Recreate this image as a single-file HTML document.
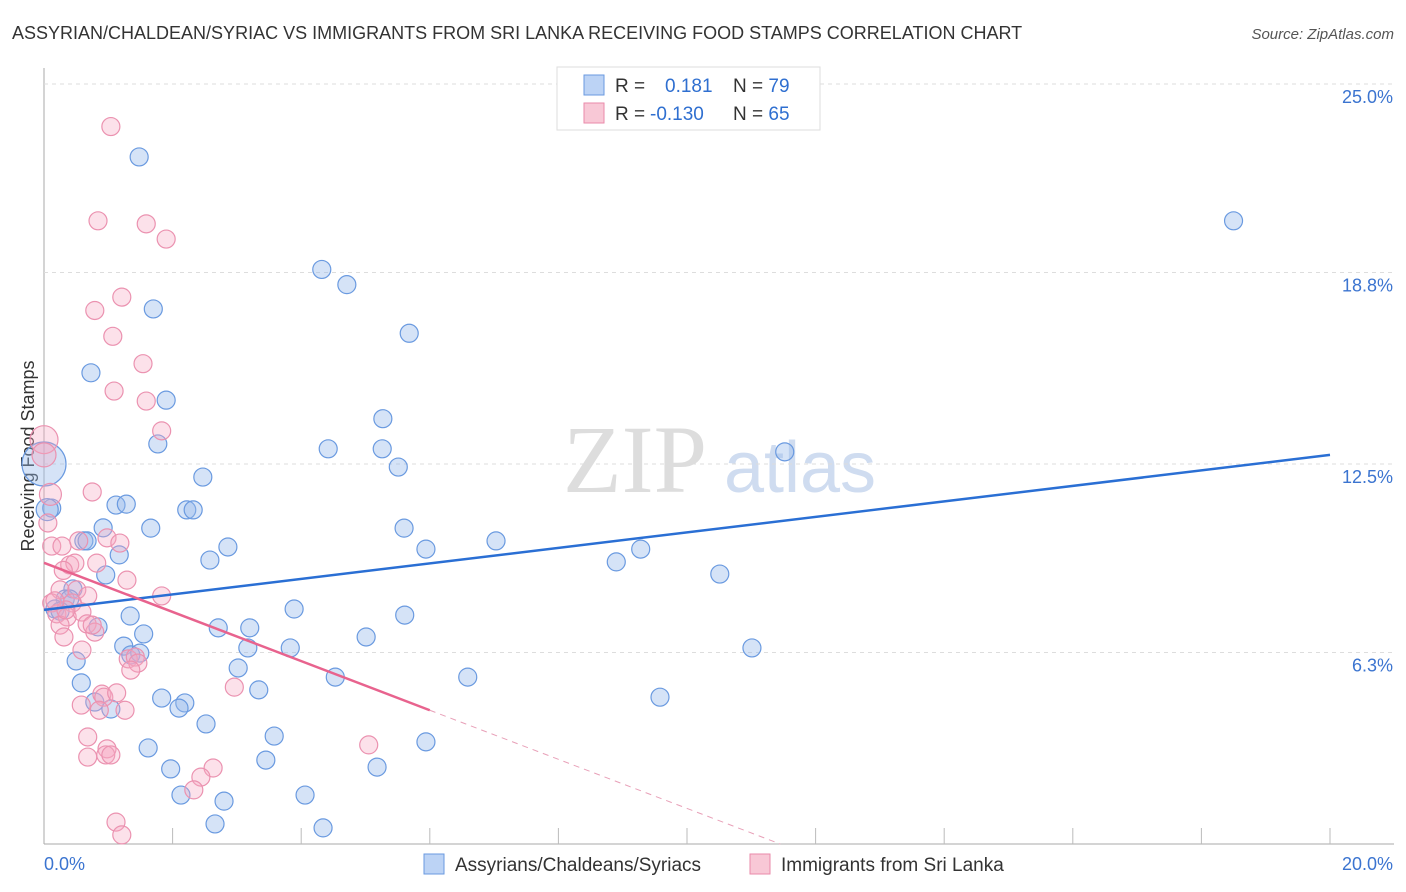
<!DOCTYPE html>
<html><head><meta charset="utf-8"><style>
body{margin:0;background:#fff;font-family:"Liberation Sans",sans-serif;}
svg{display:block}
</style></head><body>
<svg id="chart" width="1406" height="892">
<text x="12" y="39" font-size="18" fill="#333">ASSYRIAN/CHALDEAN/SYRIAC VS IMMIGRANTS FROM SRI LANKA RECEIVING FOOD STAMPS CORRELATION CHART</text>
<text x="1394" y="39" font-size="15" fill="#555" text-anchor="end" font-style="italic">Source: ZipAtlas.com</text>
<text x="635" y="492" font-size="96" fill="#ddd" font-family="Liberation Serif,serif" text-anchor="middle">ZIP</text>
<text x="800" y="492" font-size="72" fill="#cfdcf0" text-anchor="middle">atlas</text>
<text transform="translate(34,456) rotate(-90)" font-size="18" fill="#333" text-anchor="middle">Receiving Food Stamps</text>
<g id="grid"></g><g id="pts"></g><g id="lines"></g>
<g>
<rect x="557" y="67" width="263" height="63" fill="#fff" stroke="#ddd"/>
<rect x="584" y="75" width="20" height="20" fill="#bcd3f5" stroke="#6a9ae0"/>
<rect x="584" y="103" width="20" height="20" fill="#f8c8d6" stroke="#ea8aaa"/>
<text x="615" y="92" font-size="19" fill="#333">R = <tspan fill="#2f6fd0" x="665">0.181</tspan><tspan x="733">N = </tspan><tspan fill="#2f6fd0">79</tspan></text>
<text x="615" y="120" font-size="19" fill="#333">R = <tspan fill="#2f6fd0" x="650">-0.130</tspan><tspan x="733">N = </tspan><tspan fill="#2f6fd0">65</tspan></text>
</g>
<g>
<rect x="424" y="854" width="20" height="20" fill="#bcd3f5" stroke="#6a9ae0"/>
<text x="455" y="871" font-size="19" fill="#333">Assyrians/Chaldeans/Syriacs</text>
<rect x="750" y="854" width="20" height="20" fill="#f8c8d6" stroke="#ea8aaa"/>
<text x="781" y="871" font-size="19" fill="#333">Immigrants from Sri Lanka</text>
</g>
</svg>
<script>
const yTicks=[25.0,18.8,12.5,6.3];
const yTickLabels=["25.0%","18.8%","12.5%","6.3%"];
const xTickLabels=["0.0%","20.0%"];
const blueX=[1.48,18.5,4.32,4.71,1.7,5.68,0.73,1.9,5.27,1.77,4.42,5.26,5.51,2.47,11.52,0.12,1.12,1.28,2.22,2.32,0.92,1.66,5.6,0.62,0.67,7.03,2.86,5.94,1.17,2.58,8.9,9.28,0.96,10.51,0.45,0.33,0.4,0.17,0.25,3.89,5.61,1.34,0.84,2.71,3.2,1.55,5.01,1.24,3.17,3.83,11.01,1.35,1.49,0.5,3.02,4.53,6.59,0.58,3.34,1.83,2.19,9.58,2.1,0.79,1.04,2.52,3.58,1.62,5.94,3.45,5.18,1.97,2.13,4.06,2.8,2.66,4.34,0.0,0.05];
const blueY=[22.6,20.5,18.9,18.4,17.6,16.8,15.5,14.6,13.99,13.16,13.0,13.0,12.4,12.07,12.9,11.05,11.15,11.18,10.99,10.99,10.4,10.39,10.39,9.97,9.97,9.97,9.77,9.7,9.51,9.34,9.28,9.7,8.85,8.88,8.39,8.06,8.06,7.73,7.66,7.73,7.53,7.5,7.14,7.11,7.11,6.91,6.81,6.51,6.45,6.45,6.45,6.22,6.28,6.02,5.79,5.49,5.49,5.3,5.07,4.8,4.64,4.83,4.47,4.67,4.44,3.95,3.55,3.16,3.36,2.76,2.53,2.47,1.61,1.61,1.41,0.66,0.53,12.5,11.0];
const pinkX=[1.04,0.84,1.59,1.9,1.21,0.79,1.07,1.54,1.09,1.59,1.83,0.0,0.75,0.06,0.12,0.28,0.54,0.98,1.18,0.4,0.48,0.82,1.29,0.25,0.51,0.68,1.83,0.12,0.44,0.2,0.36,0.59,0.25,0.67,0.79,0.75,0.31,1.31,1.42,1.46,1.35,0.59,0.9,0.93,1.13,2.96,0.58,0.86,1.26,0.68,0.98,0.96,0.68,1.04,5.05,2.63,2.44,2.33,1.12,1.21,0.34,0.17,0.0,0.1,0.3];
const pinkY=[23.6,20.5,20.4,19.9,17.99,17.55,16.7,15.8,14.9,14.57,13.59,13.3,11.58,10.56,9.8,9.8,9.97,10.07,9.9,9.18,9.24,9.24,8.68,8.36,8.36,8.16,8.16,7.93,7.93,7.57,7.47,7.63,7.2,7.24,6.97,7.2,6.81,6.09,6.15,5.95,5.72,6.38,4.93,4.83,4.97,5.16,4.57,4.4,4.4,3.52,3.13,2.93,2.86,2.93,3.26,2.5,2.2,1.78,0.72,0.3,7.7,8.0,12.8,11.5,9.0];
const blueSize=[...Array(blueX.length)].map((_,i)=>i===77?22:i===78?11:9);
const pinkSize=[...Array(pinkX.length)].map((_,i)=>i===11?14:i===62?12:i===63?11:9);
const X0=44,X1=1330,Y0=844,PX=30.4;
const xs=v=>X0+(v/20)*(X1-X0), ys=v=>Y0-v*PX;
const NS="http://www.w3.org/2000/svg";
const g=document.getElementById('grid'),P=document.getElementById('pts'),L=document.getElementById('lines');
function mk(tag,a,par){const e=document.createElementNS(NS,tag);for(const k in a)e.setAttribute(k,a[k]);par.appendChild(e);return e;}
let ax=mk('line',{x1:44,y1:68,x2:44,y2:844,stroke:'#aaa'},g);


let bx=mk('line',{x1:44,y1:844,x2:1394,y2:844,stroke:'#aaa'},g);


yTicks.forEach((t,i)=>{
 const gl=mk('line',{x1:44,x2:1394,y1:ys(t),y2:ys(t),stroke:'#ddd','stroke-dasharray':'4,4'},g);
 
 
 const tx=mk('text',{x:1393,y:ys(t)+19,'font-size':18,fill:'#3b74d0','text-anchor':'end'},g);
 tx.textContent=yTickLabels[i];
 
 
});
for(let i=1;i<=10;i++){const x=X0+i*(X1-X0)/10;
 const tk=mk('line',{x1:x,x2:x,y1:828,y2:844,stroke:'#bbb'},g);
 
 }
[[0,44,'start'],[20,1393,'end']].forEach((d,i)=>{
 const tx=mk('text',{x:d[1],y:870,'font-size':18,fill:'#3b74d0','text-anchor':d[2]},g);
 tx.textContent=xTickLabels[i];
 
 });
blueX.forEach((v,i)=>{const c=mk('circle',{cx:xs(v),cy:ys(blueY[i]),r:blueSize[i],fill:'rgba(150,185,235,0.4)',stroke:'#6a9ae0','stroke-width':1.2},P);
 
 });
pinkX.forEach((v,i)=>{const c=mk('circle',{cx:xs(v),cy:ys(pinkY[i]),r:pinkSize[i],fill:'rgba(245,170,195,0.35)',stroke:'#eb92b0','stroke-width':1.2},P);
 
 });
const blueTrend=[7.7,12.8], pinkTrend=[9.25,4.4,0.0];
let bl=mk('line',{x1:xs(0),y1:ys(blueTrend[0]),x2:xs(20),y2:ys(blueTrend[1]),stroke:'#2a6fd4','stroke-width':2.5},L);


let pl=mk('line',{x1:xs(0),y1:ys(pinkTrend[0]),x2:xs(6),y2:ys(pinkTrend[1]),stroke:'#e8638e','stroke-width':2.5},L);


let pd=mk('line',{x1:xs(6),y1:ys(pinkTrend[1]),x2:xs(11.45),y2:ys(pinkTrend[2]),stroke:'#e8a0b8','stroke-width':1,'stroke-dasharray':'6,5'},L);


</script>
</body></html>
